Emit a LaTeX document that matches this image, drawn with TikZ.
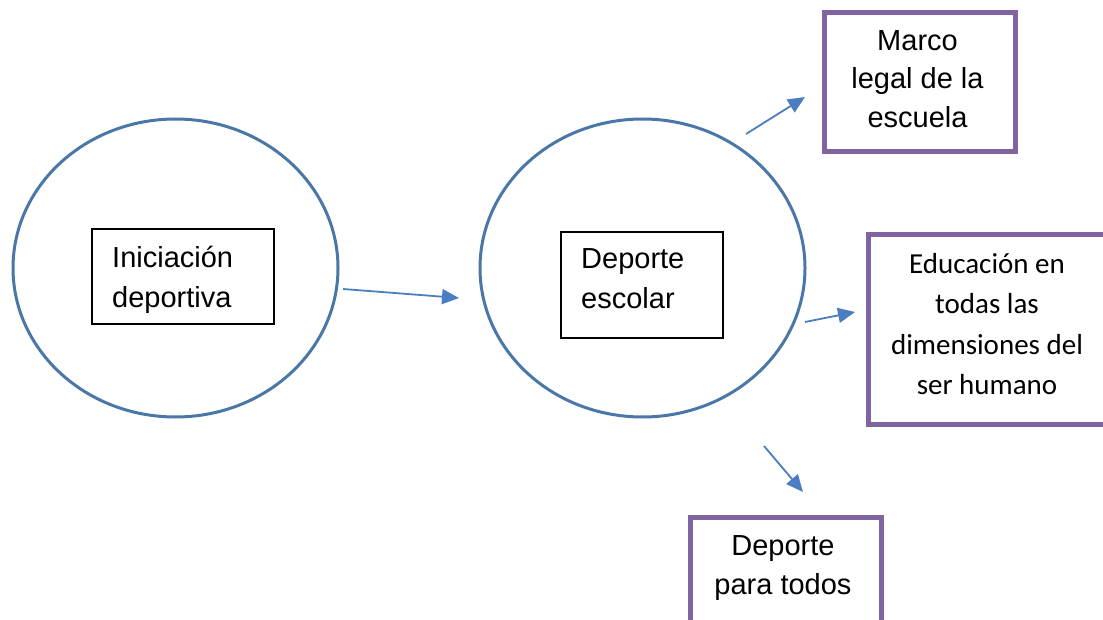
\documentclass[tikz,border=0pt]{standalone}
\usepackage{fontspec}
\setmainfont{Liberation Sans}
\newfontfamily\calfont{Carlito}
\usetikzlibrary{shapes.geometric,arrows.meta}
\definecolor{circblue}{RGB}{74,118,168}
\definecolor{arrblue}{RGB}{74,126,193}
\definecolor{boxpurple}{RGB}{128,100,162}
\tikzset{
  circ/.style={ellipse, draw=circblue, line width=3pt, minimum width=325pt, minimum height=298pt},
  innerbox/.style={draw=black, line width=1.8pt, anchor=north west, inner sep=0pt},
  pbox/.style={draw=boxpurple, line width=5pt, anchor=north west, inner sep=0pt},
  arialtext/.style={inner sep=0pt, font=\fontsize{29}{40}\selectfont},
  conn/.style={draw=arrblue, line width=1.8pt, -{Triangle[length=17pt,width=15pt]}}
}
\begin{document}
\begin{tikzpicture}[x=1pt,y=-1pt]
\useasboundingbox (0,0) rectangle (1103,620);
\clip (0,0) rectangle (1103,620);
% circles
\node[circ] (c1) at (175.5,268) {};
\node[circ] (c2) at (642.5,268) {};
% inner boxes
\node[innerbox, minimum width=182pt, minimum height=95pt] (b1) at (91,228) {};
\node[arialtext, anchor=north west, align=left] (t1) at (112,246) {Iniciación\\deportiva};
\node[innerbox, minimum width=162pt, minimum height=106pt] (b2) at (560,231) {};
\node[arialtext, anchor=north west, align=left] (t2) at (581,248) {Deporte\\escolar};
% purple boxes
\node[pbox, minimum width=191pt, minimum height=139pt] (m) at (822,10) {};
\node[arialtext, align=center, font=\fontsize{29}{38.5}\selectfont] (mt) at (917.5,79) {Marco\\legal de la\\escuela};
\node[pbox, minimum width=250pt, minimum height=190pt] (e) at (866,232) {};
\node[align=center, inner sep=0pt, font=\calfont\fontsize{29}{40.5}\selectfont] (et) at (987,324) {Educación en\\todas las\\dimensiones del\\ser humano};
\node[pbox, minimum width=191pt, minimum height=140pt] (d) at (688,515) {};
\node[arialtext, align=center, font=\fontsize{29}{38.5}\selectfont] (dt) at (783,568) {Deporte\\para todos};
% arrow endpoints
\coordinate (a1s) at (343,289);
\coordinate (a1e) at (459,298);
\coordinate (a2s) at (746,134);
\coordinate (a2e) at (805,97);
\coordinate (a3s) at (805,322);
\coordinate (a3e) at (855,312);
\coordinate (a4s) at (764,446);
\coordinate (a4e) at (803,492);
\draw[conn] (a1s) -- (a1e);
\draw[conn] (a2s) -- (a2e);
\draw[conn] (a3s) -- (a3e);
\draw[conn] (a4s) -- (a4e);
\end{tikzpicture}
\end{document}
